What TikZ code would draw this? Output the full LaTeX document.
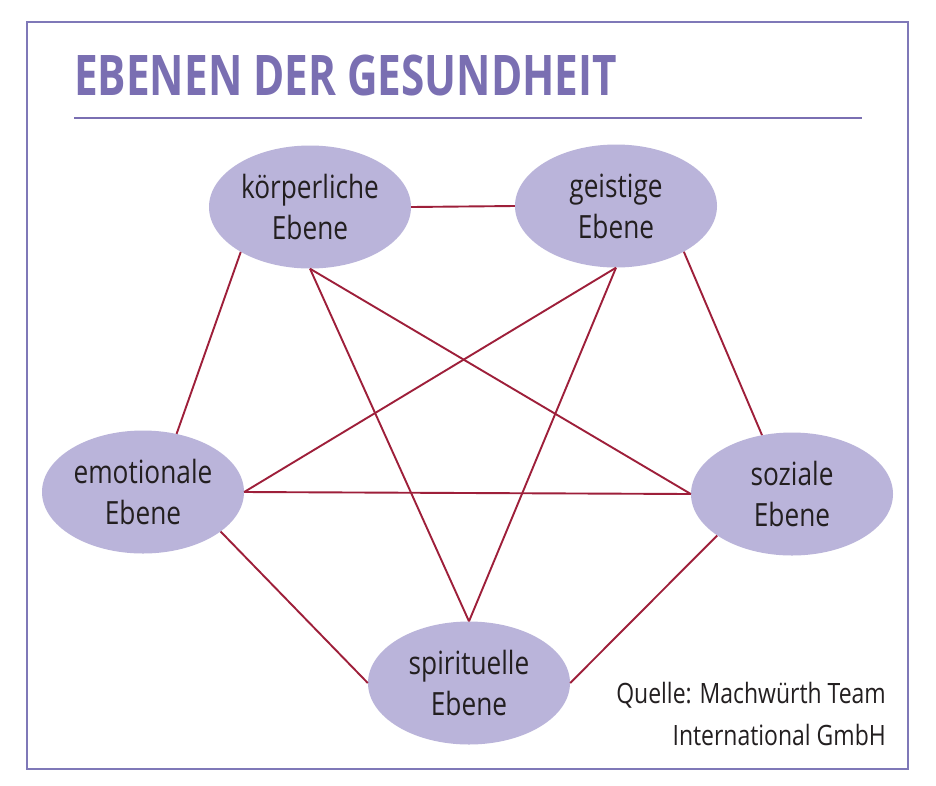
\documentclass[tikz,border=0pt]{standalone}
\usepackage{fontspec}
\setmainfont{Open Sans}[FakeStretch=0.82]
\newfontfamily\titlefont{Open Sans}[FakeStretch=0.755]
\usetikzlibrary{shapes.geometric}
\definecolor{framec}{HTML}{7F78B8}
\definecolor{titlec}{HTML}{7A6FB2}
\definecolor{ellc}{HTML}{BAB4DA}
\definecolor{linec}{HTML}{9E1F3A}
\definecolor{textc}{HTML}{231F20}
\tikzset{
  lvl/.style={ellipse, fill=ellc, draw=none, minimum width=202pt, minimum height=123pt,
    inner sep=0pt, align=center, text=textc, font=\fontsize{32}{41}\selectfont},
  conn/.style={draw=linec, line width=1.9pt},
  src/.style={anchor=base east, inner sep=0pt, text=textc, font=\fontsize{28}{42}\selectfont}
}
\begin{document}
\begin{tikzpicture}[x=1pt,y=-1pt]
\useasboundingbox (0,0) rectangle (936,785);
\fill[white] (0,0) rectangle (936,785);
\draw[framec, line width=2pt] (27,22) rectangle (908,769);
\node[anchor=base west, inner sep=0pt, text=titlec, font=\titlefont\fontsize{56}{60}\selectfont\bfseries] (title) at (74,95) {EBENEN DER GESUNDHEIT};
\coordinate (r1) at (74,118);
\coordinate (r2) at (862,118);
\draw[titlec, line width=2pt] (r1) -- (r2);

\node[lvl] (k) at (310,207) {körperliche\\Ebene};
\node[lvl] (g) at (616,206) {geistige\\Ebene};
\node[lvl] (e) at (143,492) {emotionale\\Ebene};
\node[lvl] (s) at (792,494) {soziale\\Ebene};
\node[lvl] (p) at (469,683) {spirituelle\\Ebene};

\node[src] (q1) at (886,703) {Quelle: Machwürth Team};
\node[src] (q2) at (886,745) {International GmbH};

\draw[conn] (k.east) -- (g.west);
\draw[conn] (k.-147) -- (e.60);
\draw[conn] (k.south) -- (p.north);
\draw[conn] (k.south) -- (s.west);
\draw[conn] (g.south) -- (e.east);
\draw[conn] (g.south) -- (p.north);
\draw[conn] (g.-34) -- (s.117);
\draw[conn] (e.east) -- (s.west);
\draw[conn] (e.-27) -- (p.west);
\draw[conn] (s.-151) -- (p.east);
\end{tikzpicture}
\end{document}
